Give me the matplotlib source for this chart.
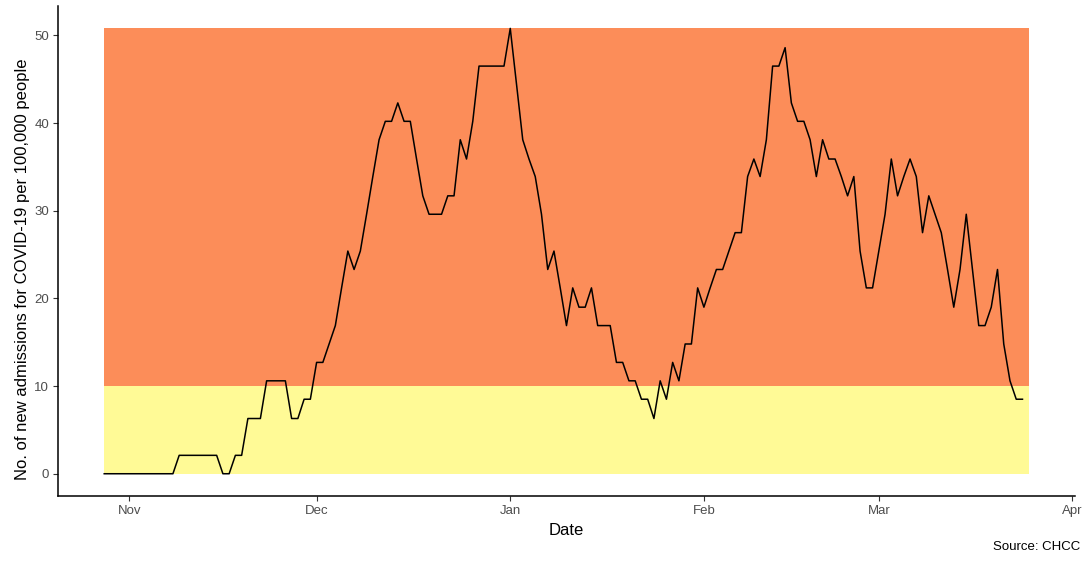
import matplotlib
matplotlib.use("Agg")  # headless
import matplotlib.pyplot as plt
import matplotlib.dates as mdates
import pandas as pd

plt.rcParams["font.family"] = ["Liberation Sans", "DejaVu Sans"]

# daily new admissions per 100,000, starting 28 Oct 2020
START = "2020-10-28"
admissions = (
    [0.0] * 12 + [2.1] * 7 + [0.0, 0.0, 2.1, 2.1] + [6.3] * 3 + [10.6] * 4
    + [6.3, 6.3, 8.5, 8.5, 12.7, 12.7, 14.8, 16.9, 21.2, 25.4, 23.3, 25.4,
       29.6, 33.9, 38.1, 40.2, 40.2, 42.3, 40.2, 40.2, 35.9, 31.7, 29.6, 29.6,
       29.6, 31.7, 31.7, 38.1, 35.9, 40.2]
    + [46.5] * 5
    + [50.8, 44.4, 38.1, 35.9, 33.9, 29.6, 23.3, 25.4, 21.2, 16.9, 21.2, 19.0,
       19.0, 21.2, 16.9, 16.9, 16.9, 12.7, 12.7, 10.6, 10.6, 8.5, 8.5, 6.3,
       10.6, 8.5, 12.7, 10.6, 14.8, 14.8, 21.2, 19.0, 21.2, 23.3, 23.3, 25.4,
       27.5, 27.5, 33.9, 35.9, 33.9, 38.1, 46.5, 46.5, 48.6, 42.3, 40.2, 40.2,
       38.1, 33.9, 38.1, 35.9, 35.9, 33.9, 31.7, 33.9, 25.4, 21.2, 21.2, 25.4,
       29.6, 35.9, 31.7, 33.9, 35.9, 33.9, 27.5, 31.7, 29.6, 27.5, 23.3, 19.0,
       23.3, 29.6, 23.3, 16.9, 16.9, 19.0, 23.3, 14.8, 10.6, 8.5, 8.5]
)
dates = pd.date_range(START, periods=len(admissions), freq="D")

# threshold bands
band_edges = [0, 10, 50.8]
band_colors = ["#FFFA96", "#FC8D59"]

fig = plt.figure(figsize=(10.9, 5.67), dpi=100)
ax = fig.add_axes([0.0532, 0.1252, 0.9330, 0.8640])

x0 = dates[0]
x1 = dates[-1] + pd.Timedelta(days=1)
for lo, hi, col in zip(band_edges[:-1], band_edges[1:], band_colors):
    ax.fill_between([x0, x1], lo, hi, color=col, linewidth=0, zorder=1)

ax.plot(dates, admissions, color="black", linewidth=1.1, zorder=3)

# ggplot-style 5% expansion
n0, n1 = mdates.date2num(x0), mdates.date2num(x1)
pad = 0.05 * (n1 - n0)
ax.set_xlim(n0 - pad, n1 + pad)
ypad = 0.05 * (band_edges[-1] - band_edges[0])
ax.set_ylim(band_edges[0] - ypad, band_edges[-1] + ypad)

ax.xaxis.set_major_locator(mdates.MonthLocator())
ax.xaxis.set_major_formatter(mdates.DateFormatter("%b"))
ax.set_yticks([0, 10, 20, 30, 40, 50])

for side in ["top", "right"]:
    ax.spines[side].set_visible(False)
for side in ["left", "bottom"]:
    ax.spines[side].set_linewidth(1.1)
ax.tick_params(axis="both", colors="#333333", labelcolor="#4D4D4D",
               labelsize=9.5, length=3.5, width=0.8, pad=3)

ax.set_xlabel("Date", fontsize=12, labelpad=4)
ax.set_ylabel("No. of new admissions for COVID-19 per 100,000 people",
              fontsize=12)
ax.yaxis.set_label_coords(-0.028, 0.462)
fig.text(0.991, 0.025, "Source: CHCC", ha="right", va="bottom", fontsize=9.5)

fig.savefig("out.png", dpi=100)
